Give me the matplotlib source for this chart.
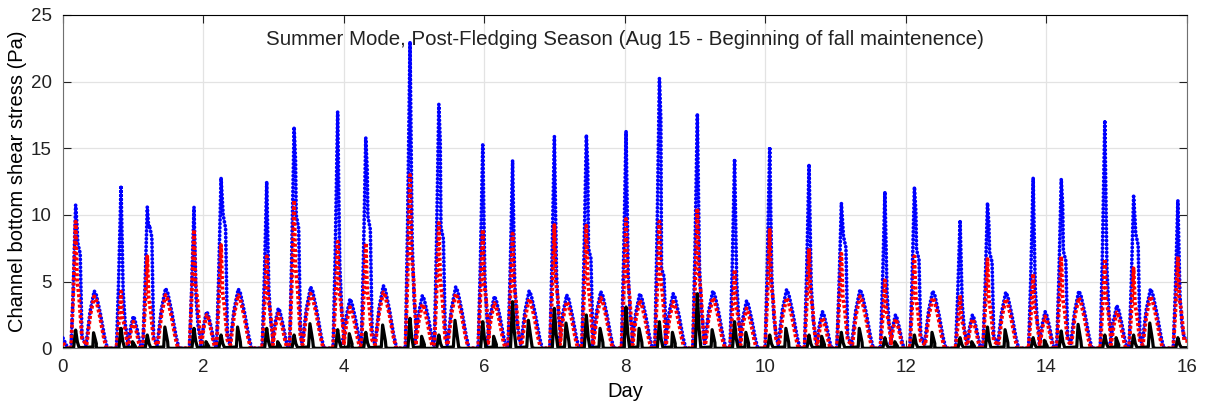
import numpy as np
import matplotlib
matplotlib.use("Agg")
import matplotlib.pyplot as plt

# ---------------- data ----------------
# Ebb spikes: day of peak, blue peak, blue shoulder (0 = none), red peak, black peak
spike_day = [0.18, 0.826, 1.20, 1.865, 2.25, 2.90, 3.29, 3.91, 4.31, 4.94, 5.35,
             5.975, 6.40, 6.995, 7.45, 8.015, 8.49, 9.03, 9.56, 10.06, 10.62,
             11.08, 11.70, 12.12, 12.77, 13.16, 13.81, 14.21, 14.83, 15.24, 15.87]
spike_blue = [10.75, 12.2, 10.6, 10.6, 12.8, 12.5, 16.6, 17.75, 15.8, 23.0, 18.3,
              15.25, 14.1, 15.9, 16.0, 16.3, 20.25, 17.6, 14.2, 15.1, 13.8,
              10.9, 11.75, 12.1, 9.6, 10.9, 12.8, 12.7, 17.1, 11.4, 11.1]
spike_blue_shoulder = [7.9, 0, 9.25, 0, 10.0, 0, 10.0, 0, 9.9, 0, 9.1,
                       0, 0, 0, 7.5, 0, 6.0, 0, 0, 0, 0,
                       8.4, 0, 7.4, 0, 7.2, 0, 7.3, 0, 8.6, 0]
spike_red = [9.5, 4.25, 6.9, 8.9, 7.75, 6.9, 11.1, 8.0, 7.9, 13.0, 9.4,
             8.9, 8.6, 9.25, 9.2, 9.7, 9.5, 10.5, 5.9, 8.9, 7.5,
             7.1, 5.1, 6.9, 4.0, 6.7, 5.6, 6.9, 6.7, 6.0, 6.9]
spike_black = [1.37, 1.5, 1.0, 1.5, 1.0, 1.5, 1.0, 1.4, 1.2, 2.25, 1.0,
               2.0, 3.5, 3.0, 2.5, 3.1, 2.0, 4.1, 2.0, 1.0, 1.0,
               1.2, 0.8, 1.0, 0.8, 1.6, 0.8, 1.3, 1.0, 1.0, 0.8]

# Flood humps: day of peak, blue peak, red peak, black peak
hump_day = [0.445, 1.00, 1.46, 2.045, 2.495, 3.065, 3.525, 4.085, 4.56, 5.115,
            5.59, 6.14, 6.635, 7.17, 7.655, 8.21, 8.685, 9.25, 9.73, 10.30,
            10.81, 11.345, 11.85, 12.38, 12.945, 13.42, 13.98, 14.46, 15.00, 15.48]
hump_blue = [4.3, 2.4, 4.5, 2.75, 4.45, 3.0, 4.6, 3.7, 4.7, 3.95,
             4.6, 3.9, 4.3, 4.0, 4.25, 4.1, 4.1, 4.3, 3.55, 4.4,
             2.75, 4.4, 2.5, 4.3, 2.5, 4.2, 2.75, 4.3, 3.2, 4.45]
hump_red = [3.9, 2.0, 4.0, 2.5, 4.0, 2.6, 4.1, 3.1, 4.2, 3.3,
            4.1, 3.4, 3.7, 3.5, 3.8, 3.6, 3.5, 3.8, 3.0, 3.8,
            2.3, 3.9, 2.2, 3.8, 2.2, 3.7, 2.4, 3.8, 2.7, 3.9]
hump_black = [1.17, 0.5, 1.6, 0.5, 1.6, 0.5, 1.85, 1.1, 1.75, 0.9,
              2.1, 0.9, 2.1, 1.9, 1.5, 1.5, 1.2, 1.4, 1.2, 1.5,
              0.9, 1.5, 0.5, 1.2, 0.5, 1.4, 0.6, 1.8, 0.8, 1.9]

start_blue, start_red = 0.77, 0.4   # tail at day 0

title = "Summer Mode, Post-Fledging Season (Aug 15 - Beginning of fall maintenence)"
x_ticks = [0, 2, 4, 6, 8, 10, 12, 14, 16]
y_ticks = [0, 5, 10, 15, 20, 25]


# ---------------- build the polylines ----------------
def spike_pts(d, p, s, kind):
    if kind == "blue":
        if s > 0:
            return [(d - 0.065, 0), (d - 0.035, 0.4 * p), (d, p), (d + 0.02, 0.85 * p),
                    (d + 0.03, s), (d + 0.065, 0.9 * s), (d + 0.09, 0.08 * p)]
        return [(d - 0.065, 0), (d - 0.035, 0.4 * p), (d, p), (d + 0.03, 0.35 * p),
                (d + 0.06, 0.15 * p), (d + 0.09, 0.07 * p)]
    if kind == "red":
        return [(d - 0.065, 0), (d - 0.035, 0.4 * p), (d, p), (d + 0.02, 0.55 * p),
                (d + 0.05, 0.4 * p), (d + 0.09, 0.08 * p)]
    return [(d - 0.03, 0), (d, p), (d + 0.025, 0.35 * p), (d + 0.05, 0.05)]


def hump_pts(d, h, kind):
    s = min(1.0, h / 4.4) ** 0.8
    if kind == "black":
        return [(d - 0.06 * s, 0.1), (d - 0.01, h), (d + 0.03, 0.3 * h),
                (d + 0.08 * s, 0.05), (d + 0.15 * s, 0)]
    return [(d - 0.12 * s, 0.25), (d - 0.06 * s, 0.65 * h), (d, h),
            (d + 0.03 * s, 0.93 * h), (d + 0.09 * s, 0.6 * h),
            (d + 0.15 * s, 0.2 * h), (d + 0.19 * s, 0)]


def build(kind):
    events = []
    for i, d in enumerate(spike_day):
        if kind == "blue":
            events.append((d, spike_pts(d, spike_blue[i], spike_blue_shoulder[i], kind)))
        elif kind == "red":
            events.append((d, spike_pts(d, spike_red[i], 0, kind)))
        else:
            events.append((d, spike_pts(d, spike_black[i], 0, kind)))
    for i, d in enumerate(hump_day):
        h = {"blue": hump_blue, "red": hump_red, "black": hump_black}[kind][i]
        events.append((d, hump_pts(d, h, kind)))
    events.sort(key=lambda e: e[0])
    if kind == "blue":
        pts = [(0, start_blue), (0.07, 0)]
    elif kind == "red":
        pts = [(0, start_red), (0.06, 0)]
    else:
        pts = [(0, 0)]
    for _, ev in events:
        pts.extend(ev)
    pts.append((16.0, pts[-1][1]))
    arr = np.array(pts)
    return arr[:, 0], arr[:, 1]


# ---------------- plot ----------------
plt.rcParams["font.family"] = ["Liberation Sans", "DejaVu Sans"]
fig = plt.figure(figsize=(12.09, 4.04), dpi=100)
ax = fig.add_axes([0.0521, 0.1378, 0.9297, 0.8251])

bx, by = build("blue")
rx, ry = build("red")
kx, ky = build("black")
ax.plot(bx, by, color="#0000ff", lw=2.7, linestyle=(0, (0.05, 1.0)),
        dash_capstyle="round", zorder=3)
ax.plot(rx, ry, color="#ff0000", lw=2.7, linestyle=(0, (0.8, 0.6)), zorder=4)
ax.plot(kx, ky, color="black", lw=2.3, linestyle="-", zorder=5)

ax.set_xlim(0, 16)
ax.set_ylim(0, 25)
ax.set_xticks(x_ticks)
ax.set_yticks(y_ticks)
ax.grid(True, color="#e3e3e3", lw=0.9)
ax.set_axisbelow(True)
ax.tick_params(direction="in", length=6, top=True, right=True, labelsize=13.5,
               colors="#222222", pad=8)
for side in ["left", "bottom", "right"]:
    ax.spines[side].set_color("#707070")
ax.spines["top"].set_color("black")
ax.set_xlabel("Day", fontsize=14.5, labelpad=4)
ax.set_ylabel("Channel bottom shear stress (Pa)", fontsize=14.5, labelpad=3)
ax.text(0.5, 0.925, title, transform=ax.transAxes, ha="center", va="center",
        fontsize=14.8, color="#222222", zorder=6)

fig.savefig("out.png", dpi=100)
